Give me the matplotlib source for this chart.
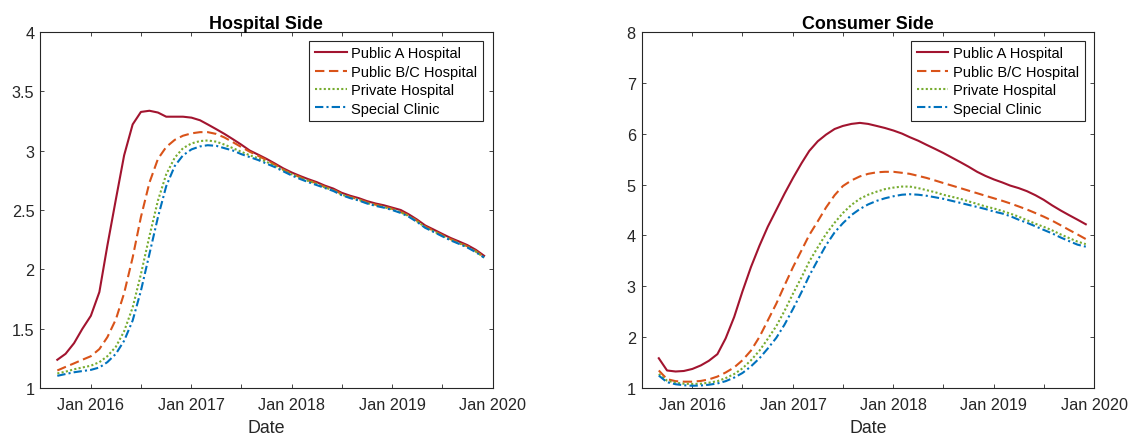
import pandas as pd
import matplotlib
matplotlib.use("Agg")
import matplotlib.pyplot as plt
import matplotlib.dates as mdates
from matplotlib.ticker import FormatStrFormatter

# monthly observations, Sep 2015 - Dec 2019
dates = pd.date_range("2015-09-01", periods=52, freq="MS")

labels = ["Public A Hospital", "Public B/C Hospital", "Private Hospital", "Special Clinic"]

# hospital side
hosp_public_a = [1.24, 1.29, 1.38, 1.50, 1.61, 1.81, 2.20, 2.59, 2.96, 3.22,
                 3.325, 3.335, 3.32, 3.285, 3.285, 3.285, 3.277, 3.255, 3.22, 3.18,
                 3.14, 3.095, 3.05, 3.0, 2.965, 2.93, 2.89, 2.85, 2.815, 2.785,
                 2.76, 2.735, 2.705, 2.68, 2.645, 2.62, 2.60, 2.575, 2.555, 2.54,
                 2.52, 2.50, 2.465, 2.42, 2.37, 2.335, 2.30, 2.265, 2.235, 2.205,
                 2.165, 2.115]
hosp_public_bc = [1.15, 1.18, 1.21, 1.24, 1.27, 1.33, 1.43, 1.58, 1.80, 2.10,
                  2.44, 2.73, 2.93, 3.03, 3.09, 3.125, 3.145, 3.155, 3.155, 3.14,
                  3.11, 3.07, 3.03, 2.99, 2.955, 2.92, 2.88, 2.84, 2.805, 2.775,
                  2.75, 2.725, 2.695, 2.67, 2.635, 2.61, 2.59, 2.565, 2.545, 2.53,
                  2.51, 2.485, 2.455, 2.41, 2.36, 2.325, 2.29, 2.255, 2.225, 2.195,
                  2.155, 2.105]
hosp_private = [1.125, 1.14, 1.16, 1.175, 1.19, 1.22, 1.27, 1.35, 1.48, 1.68,
                1.96, 2.28, 2.58, 2.80, 2.94, 3.02, 3.06, 3.08, 3.085, 3.075,
                3.05, 3.02, 2.99, 2.96, 2.935, 2.905, 2.87, 2.835, 2.80, 2.77,
                2.745, 2.72, 2.69, 2.665, 2.63, 2.605, 2.585, 2.56, 2.54, 2.525,
                2.505, 2.48, 2.45, 2.405, 2.355, 2.32, 2.285, 2.25, 2.22, 2.19,
                2.15, 2.10]
hosp_special = [1.105, 1.12, 1.135, 1.145, 1.155, 1.175, 1.22, 1.29, 1.40, 1.57,
                1.82, 2.13, 2.44, 2.70, 2.87, 2.96, 3.01, 3.035, 3.045, 3.04,
                3.02, 3.0, 2.97, 2.945, 2.92, 2.89, 2.86, 2.825, 2.79, 2.76,
                2.735, 2.71, 2.685, 2.66, 2.625, 2.60, 2.58, 2.555, 2.535, 2.52,
                2.50, 2.475, 2.445, 2.40, 2.35, 2.315, 2.28, 2.245, 2.215, 2.185,
                2.145, 2.10]

# consumer side
cons_public_a = [1.59, 1.35, 1.33, 1.34, 1.38, 1.45, 1.54, 1.67, 1.98, 2.40,
                 2.90, 3.38, 3.80, 4.17, 4.50, 4.82, 5.13, 5.42, 5.66, 5.85,
                 5.98, 6.09, 6.15, 6.19, 6.21, 6.19, 6.15, 6.11, 6.06, 6.00,
                 5.93, 5.86, 5.78, 5.70, 5.62, 5.53, 5.44, 5.35, 5.25, 5.17,
                 5.10, 5.04, 4.98, 4.93, 4.87, 4.79, 4.70, 4.59, 4.49, 4.40,
                 4.31, 4.22]
cons_public_bc = [1.35, 1.18, 1.14, 1.13, 1.13, 1.145, 1.175, 1.23, 1.31, 1.41,
                  1.55, 1.74, 2.01, 2.33, 2.66, 3.02, 3.38, 3.71, 4.01, 4.28,
                  4.55, 4.79, 4.97, 5.08, 5.16, 5.21, 5.24, 5.25, 5.25, 5.23,
                  5.21, 5.17, 5.13, 5.08, 5.03, 4.98, 4.93, 4.88, 4.83, 4.78,
                  4.73, 4.68, 4.63, 4.57, 4.51, 4.44, 4.37, 4.29, 4.20, 4.11,
                  4.02, 3.93]
cons_private = [1.28, 1.15, 1.11, 1.09, 1.085, 1.09, 1.11, 1.14, 1.20, 1.28,
                1.39, 1.55, 1.74, 1.97, 2.22, 2.52, 2.86, 3.18, 3.49, 3.77,
                4.03, 4.25, 4.44, 4.60, 4.72, 4.80, 4.86, 4.91, 4.94, 4.96,
                4.96, 4.93, 4.89, 4.85, 4.80, 4.76, 4.72, 4.67, 4.62, 4.57,
                4.53, 4.48, 4.43, 4.37, 4.30, 4.23, 4.17, 4.10, 4.02, 3.95,
                3.88, 3.83]
cons_special = [1.25, 1.12, 1.08, 1.06, 1.05, 1.055, 1.07, 1.095, 1.14, 1.21,
                1.30, 1.43, 1.59, 1.78, 1.99, 2.25, 2.56, 2.89, 3.21, 3.52,
                3.81, 4.06, 4.24, 4.40, 4.52, 4.61, 4.68, 4.73, 4.77, 4.80,
                4.81, 4.80, 4.78, 4.75, 4.72, 4.68, 4.64, 4.60, 4.56, 4.52,
                4.47, 4.43, 4.38, 4.31, 4.25, 4.18, 4.11, 4.04, 3.96, 3.89,
                3.82, 3.78]

colors = ["#A2142F", "#D95319", "#77AC30", "#0072BD"]
styles = ["-", (0, (4.5, 2.2)), (0, (1, 1.1)), (0, (4, 1.5, 1, 1.5))]
axis_gray = "#262626"

plt.rcParams["font.family"] = ["Liberation Sans", "DejaVu Sans"]


def draw_panel(ax, series, title, ylim, yticks):
    for vals, c, ls, lab in zip(series, colors, styles, labels):
        ax.plot(dates, vals, color=c, linestyle=ls, linewidth=1.5, label=lab)

    ax.set_title(title, fontsize=12.9, fontweight="bold", pad=2)
    ax.set_xlabel("Date", fontsize=12.9, color=axis_gray, labelpad=4.5)

    ax.set_xlim(pd.Timestamp("2015-07-01"), pd.Timestamp("2020-01-01"))
    ax.xaxis.set_major_locator(mdates.YearLocator())
    ax.xaxis.set_major_formatter(mdates.DateFormatter("%b %Y"))
    ax.xaxis.set_minor_locator(mdates.MonthLocator(bymonth=7))

    ax.set_ylim(*ylim)
    ax.set_yticks(yticks)
    ax.yaxis.set_major_formatter(FormatStrFormatter("%g"))

    ax.tick_params(which="both", direction="in", top=True, right=True,
                   length=3.2, width=0.6, color=axis_gray)
    ax.tick_params(axis="both", labelsize=11.7, labelcolor=axis_gray)
    ax.tick_params(axis="x", pad=6.5)
    ax.tick_params(axis="y", pad=4.3)
    for sp in ax.spines.values():
        sp.set_color(axis_gray)
        sp.set_linewidth(0.8)

    leg = ax.legend(loc="upper left", bbox_to_anchor=(0.595, 0.975),
                    fontsize=10.5, fancybox=False, framealpha=1,
                    edgecolor=axis_gray, handlelength=2.15, handletextpad=0.3,
                    borderpad=0.4, labelspacing=0.3, borderaxespad=0)
    leg.get_frame().set_linewidth(0.8)


fig = plt.figure(figsize=(11.34, 4.39), dpi=100)
ax1 = fig.add_axes([0.0355, 0.1132, 0.3989, 0.8123])
ax2 = fig.add_axes([0.5659, 0.1132, 0.3991, 0.8123])

draw_panel(ax1, [hosp_public_a, hosp_public_bc, hosp_private, hosp_special],
           "Hospital Side", (1, 4), [1, 1.5, 2, 2.5, 3, 3.5, 4])
draw_panel(ax2, [cons_public_a, cons_public_bc, cons_private, cons_special],
           "Consumer Side", (1, 8), [1, 2, 3, 4, 5, 6, 7, 8])

fig.savefig("out.png", dpi=100)
